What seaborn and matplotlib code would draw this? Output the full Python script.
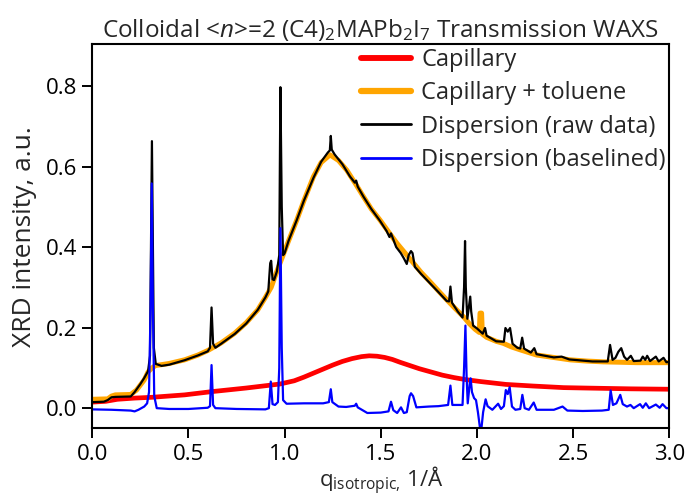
import matplotlib
matplotlib.use("Agg")
import matplotlib.pyplot as plt
import seaborn as sns
import pandas as pd

# ---- data ----
cap_q = [0.00, 0.07, 0.13, 0.22, 0.31, 0.48, 0.62, 0.80, 0.976, 1.05, 1.10, 1.15, 1.20, 1.25,
         1.30, 1.35, 1.40, 1.44, 1.48, 1.52, 1.56, 1.60, 1.65, 1.70, 1.76, 1.82, 1.88, 1.94,
         2.02, 2.15, 2.29, 2.45, 2.56, 2.80, 3.00]
cap_I = [0.015, 0.017, 0.022, 0.025, 0.027, 0.033, 0.041, 0.050, 0.060, 0.068, 0.077, 0.087,
         0.097, 0.107, 0.116, 0.123, 0.128, 0.130, 0.129, 0.126, 0.121, 0.114, 0.106, 0.098,
         0.090, 0.082, 0.076, 0.071, 0.066, 0.059, 0.055, 0.051, 0.050, 0.048, 0.047]

tol_q = [0.00, 0.08, 0.10, 0.12, 0.20, 0.23, 0.27, 0.29, 0.31, 0.33, 0.36, 0.40, 0.48, 0.55,
         0.60, 0.67, 0.74, 0.80, 0.86, 0.90, 0.93, 0.96, 0.98, 1.02, 1.063, 1.10, 1.15, 1.19,
         1.236, 1.28, 1.323, 1.37, 1.41, 1.45, 1.496, 1.54, 1.583, 1.63, 1.67, 1.71, 1.756,
         1.80, 1.843, 1.89, 1.93, 1.96, 1.99, 2.012, 2.016, 2.024, 2.028, 2.05, 2.10, 2.137,
         2.18, 2.224, 2.27, 2.31, 2.397, 2.484, 2.57, 2.657, 2.75, 2.83, 3.00]
tol_I = [0.022, 0.023, 0.030, 0.033, 0.034, 0.045, 0.070, 0.090, 0.100, 0.106, 0.108, 0.111,
         0.120, 0.132, 0.143, 0.162, 0.186, 0.212, 0.244, 0.275, 0.300, 0.340, 0.365, 0.415,
         0.467, 0.515, 0.575, 0.610, 0.629, 0.615, 0.591, 0.556, 0.525, 0.495, 0.467, 0.438,
         0.410, 0.383, 0.360, 0.337, 0.314, 0.291, 0.269, 0.246, 0.227, 0.210, 0.196, 0.188,
         0.236, 0.236, 0.184, 0.176, 0.166, 0.161, 0.152, 0.145, 0.138, 0.132, 0.126, 0.120,
         0.117, 0.115, 0.114, 0.113, 0.113]

raw_q = [0.00, 0.06, 0.08, 0.10, 0.12, 0.20, 0.22, 0.25, 0.27, 0.29, 0.300, 0.305, 0.310,
         0.315, 0.320, 0.330, 0.36, 0.40, 0.48, 0.55, 0.60, 0.612, 0.620, 0.628, 0.64, 0.67,
         0.74, 0.80, 0.86, 0.90, 0.915, 0.925, 0.930, 0.937, 0.945, 0.960, 0.972, 0.978,
         0.985, 0.992, 1.00, 1.02, 1.063, 1.10, 1.15, 1.19, 1.225, 1.235, 1.240, 1.245, 1.26,
         1.30, 1.34, 1.365, 1.372, 1.38, 1.41, 1.45, 1.496, 1.53, 1.545, 1.553, 1.560, 1.58,
         1.604, 1.62, 1.635, 1.645, 1.657, 1.665, 1.677, 1.71, 1.756, 1.80, 1.843, 1.855,
         1.862, 1.870, 1.90, 1.925, 1.933, 1.938, 1.942, 1.950, 1.960, 1.965, 1.970, 1.980,
         2.00, 2.03, 2.042, 2.05, 2.10, 2.14, 2.148, 2.160, 2.172, 2.185, 2.21, 2.225, 2.235,
         2.245, 2.28, 2.298, 2.31, 2.40, 2.44, 2.48, 2.55, 2.60, 2.68, 2.692, 2.705, 2.72,
         2.735, 2.750, 2.765, 2.78, 2.80, 2.815, 2.85, 2.862, 2.875, 2.885, 2.90, 2.93, 2.945,
         2.97, 2.985, 3.00]
raw_I = [0.015, 0.016, 0.020, 0.027, 0.028, 0.029, 0.040, 0.060, 0.075, 0.092, 0.130, 0.400,
         0.663, 0.400, 0.150, 0.110, 0.105, 0.108, 0.119, 0.131, 0.141, 0.150, 0.250, 0.160,
         0.150, 0.160, 0.184, 0.210, 0.244, 0.275, 0.290, 0.360, 0.366, 0.320, 0.318, 0.340,
         0.380, 0.797, 0.500, 0.380, 0.385, 0.415, 0.467, 0.515, 0.572, 0.612, 0.635, 0.640,
         0.676, 0.642, 0.630, 0.606, 0.575, 0.560, 0.565, 0.550, 0.525, 0.495, 0.465, 0.440,
         0.425, 0.434, 0.425, 0.400, 0.385, 0.372, 0.358, 0.380, 0.390, 0.385, 0.351, 0.333,
         0.310, 0.288, 0.266, 0.265, 0.302, 0.262, 0.240, 0.225, 0.300, 0.415, 0.300, 0.222,
         0.260, 0.277, 0.240, 0.205, 0.198, 0.185, 0.199, 0.180, 0.166, 0.165, 0.199, 0.190,
         0.199, 0.160, 0.150, 0.148, 0.175, 0.148, 0.138, 0.149, 0.134, 0.126, 0.128, 0.121,
         0.118, 0.116, 0.116, 0.157, 0.120, 0.125, 0.140, 0.149, 0.128, 0.120, 0.130, 0.117,
         0.118, 0.128, 0.120, 0.130, 0.117, 0.128, 0.116, 0.125, 0.114, 0.115]

base_q = [0.00, 0.10, 0.20, 0.22, 0.24, 0.27, 0.285, 0.295, 0.303, 0.309, 0.315, 0.322,
          0.335, 0.40, 0.50, 0.60, 0.612, 0.620, 0.628, 0.64, 0.75, 0.90, 0.918, 0.928,
          0.937, 0.950, 0.965, 0.972, 0.978, 0.985, 0.992, 1.01, 1.10, 1.20, 1.23, 1.240,
          1.248, 1.28, 1.32, 1.365, 1.372, 1.38, 1.43, 1.50, 1.540, 1.553, 1.565, 1.585,
          1.605, 1.620, 1.635, 1.650, 1.657, 1.668, 1.685, 1.75, 1.80, 1.850, 1.862, 1.872,
          1.925, 1.933, 1.940, 1.946, 1.952, 1.962, 1.967, 1.974, 1.985, 1.995, 2.005, 2.020,
          2.032, 2.045, 2.055, 2.08, 2.110, 2.125, 2.140, 2.150, 2.160, 2.170, 2.182, 2.20,
          2.225, 2.236, 2.248, 2.270, 2.295, 2.310, 2.40, 2.445, 2.47, 2.55, 2.65, 2.685,
          2.695, 2.707, 2.725, 2.745, 2.758, 2.78, 2.798, 2.815, 2.848, 2.862, 2.878, 2.895,
          2.930, 2.950, 2.965, 2.985, 3.00]
base_I = [-0.003, -0.004, -0.006, -0.008, -0.004, 0.004, 0.012, 0.040, 0.250, 0.558, 0.250,
          0.030, 0.000, -0.002, -0.002, 0.001, 0.005, 0.107, 0.008, 0.000, -0.002, -0.003,
          0.000, 0.066, 0.010, 0.008, 0.015, 0.100, 0.447, 0.150, 0.020, 0.011, 0.012, 0.012,
          0.015, 0.047, 0.015, 0.004, 0.003, 0.006, 0.011, 0.002, -0.012, -0.011, -0.008,
          0.016, -0.005, -0.012, 0.002, -0.012, -0.010, 0.030, 0.037, 0.030, 0.002, 0.004,
          0.005, 0.008, 0.056, 0.008, 0.008, 0.100, 0.205, 0.080, 0.012, 0.060, 0.074, 0.040,
          0.025, 0.020, -0.010, -0.065, -0.010, 0.022, 0.005, -0.004, 0.011, -0.002, 0.005,
          0.045, 0.035, 0.052, 0.004, -0.004, -0.002, 0.033, 0.000, -0.004, 0.014, -0.004,
          -0.004, 0.004, -0.006, -0.007, -0.006, -0.004, 0.044, 0.008, 0.012, 0.033, 0.010,
          0.004, 0.008, 0.000, 0.010, 0.001, 0.012, 0.000, 0.009, 0.001, 0.010, 0.000, 0.000]

series_labels = ["Capillary", "Capillary + toluene", "Dispersion (raw data)", "Dispersion (baselined)"]
series_colors = ["#FF0000", "#FFA500", "#000000", "#0000FF"]
x_ticks = [0.0, 0.5, 1.0, 1.5, 2.0, 2.5, 3.0]
y_ticks = [0.0, 0.2, 0.4, 0.6, 0.8]

# ---- style ----
sns.set_style("ticks")
FONT = "Open Sans"
plt.rcParams["font.family"] = [FONT, "DejaVu Sans"]
plt.rcParams["mathtext.fontset"] = "custom"
plt.rcParams["mathtext.rm"] = FONT
plt.rcParams["mathtext.it"] = FONT + ":italic"
plt.rcParams["mathtext.bf"] = FONT + ":bold"

fig = plt.figure(figsize=(6.86, 4.99), dpi=100)
ax = fig.add_axes([92.3 / 686, 1 - 428.3 / 499, (669.3 - 92.3) / 686, (428.3 - 44.3) / 499])

datasets = [(cap_q, cap_I, 3.4), (tol_q, tol_I, 3.6), (raw_q, raw_I, 1.6), (base_q, base_I, 1.6)]
for (q, I, lw), lab, col in zip(datasets, series_labels, series_colors):
    df = pd.DataFrame({"q": q, "I": I})
    sns.lineplot(data=df, x="q", y="I", color=col, lw=lw, label=lab, ax=ax,
                 estimator=None, sort=True)

ax.set_xlim(0, 3.0)
ax.set_ylim(-0.05, 0.9035)
ax.set_xticks(x_ticks)
ax.set_xticklabels([f"{v:.1f}" for v in x_ticks])
ax.set_yticks(y_ticks)
ax.set_yticklabels([f"{v:.1f}" for v in y_ticks])
ax.tick_params(axis="both", direction="out", length=7, width=1.4, labelsize=16,
               colors="black")
ax.tick_params(axis="x", pad=4)
ax.tick_params(axis="y", pad=4)
ax.tick_params(top=False, right=False)
for s in ax.spines.values():
    s.set_linewidth(1.5)
    s.set_color("black")
    s.set_visible(True)

ax.set_xlabel(r"q$_{\mathrm{isotropic,}}\,$1/Å", fontsize=16, labelpad=0.5)
ax.set_ylabel("XRD intensity, a.u.", fontsize=19, labelpad=6)
ax.set_title(r"Colloidal <$\mathit{n}$>=2 (C4)$_2$MAPb$_2$I$_7$ Transmission WAXS",
             fontsize=17.5, pad=5)

leg = ax.legend(loc="upper right", bbox_to_anchor=(1.0, 1.0), frameon=False, fontsize=17,
                handlelength=2.15, handletextpad=0.42, labelspacing=0.4, borderaxespad=0.05,
                borderpad=0.1)
for line in leg.get_lines():
    line.set_linewidth(line.get_linewidth() * 1.25)

fig.savefig("out.png", dpi=100)
